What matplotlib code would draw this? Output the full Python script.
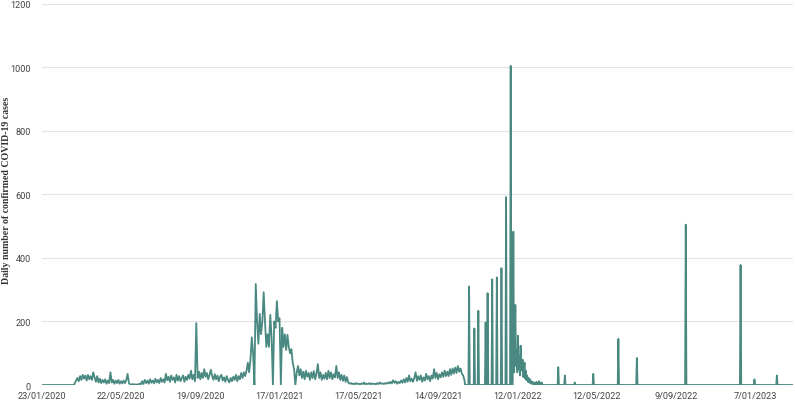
import matplotlib
matplotlib.use("Agg")
import matplotlib.pyplot as plt
import pandas as pd

# --- data ---
start_date = "2020-01-23"
end_date = "2023-03-06"

# low-level period, one value every 2 days starting 13/03/2020
noisy_start = "2020-03-13"
noisy_values = [
    6, 14, 22, 12, 28, 16, 32, 20, 30, 14, 32, 18, 28, 16, 40,
    24, 10, 28, 8, 20, 6, 16, 8, 18, 4, 14, 6,
    40, 8, 16, 4, 14, 6, 16, 4, 12, 5, 14, 6, 16, 35,
    6, 2, 1, 3, 1, 2, 1, 2, 4, 2,
    12, 3, 16, 6, 14, 4, 18, 7, 14, 5, 20, 8, 16, 6, 22, 10, 18, 8, 35,
    15, 26, 10, 30, 16, 24, 8, 32, 14, 28, 12, 22, 30, 10, 26, 16, 32, 20, 45,
    18, 32, 12,
    195, 22, 42, 18, 38, 22, 50, 26, 38, 18, 32, 48,
    28, 16, 34, 18, 30, 12, 26, 32, 14, 24, 10, 28, 16, 8, 22, 12, 26,
    16, 32, 12, 28, 18, 38, 22, 40, 28, 45,
    70, 40, 80, 150, 100, 0,
    318, 200, 130, 224, 160, 200, 292, 200, 120, 160, 120, 221, 150, 0,
    200, 180, 264, 200, 210, 0,
    180, 120, 160, 110, 158, 120, 100, 113, 70, 50, 0,
    40, 60, 30, 50, 22, 42, 18, 45, 26, 38, 16, 40, 22, 44, 18, 36, 66,
    22, 40, 16, 32, 20, 38, 18, 45, 22, 40, 18, 34, 24, 60,
    22, 40, 16, 32, 13, 30, 10, 25,
    8, 4, 6, 3, 5, 2, 6, 3, 4, 2, 5, 3, 8, 2, 4, 3,
    6, 2, 5, 3, 4, 2, 6, 3, 8, 4, 5, 3, 6, 4, 8, 5,
    10, 5, 15, 7, 12, 4, 10, 6, 14, 7,
    18, 8, 22, 10, 30, 12, 20, 10,
    22, 40, 13, 28, 16, 30, 10, 24, 14, 35, 18, 28, 12, 30, 20,
    50, 22, 38, 18, 34, 24, 40, 26, 45, 28,
    42, 28, 50, 32, 52, 36, 55, 38, 60, 42, 52, 36, 30, 15,
]

# single-day reports after October 2021 (zero on other days)
spike_dates = [
    "2021-10-31", "2021-11-08", "2021-11-14", "2021-11-25", "2021-11-28",
    "2021-12-05", "2021-12-12", "2021-12-19", "2021-12-26", "2022-01-02",
    "2022-01-06", "2022-03-15", "2022-03-25", "2022-04-09", "2022-05-07",
    "2022-06-14", "2022-07-12", "2022-09-24", "2022-12-16", "2023-01-06",
    "2023-02-09",
]
spike_values = [
    310, 178, 234, 197, 289,
    333, 339, 368, 592, 1005,
    483, 56, 30, 8, 35,
    145, 85, 505, 378, 18,
    30,
]

# daily tail after the January 2022 peak
tail_start = "2022-01-07"
tail_values = [
    40, 90, 252, 60, 110, 40, 155, 50, 90, 30, 124, 45, 60, 80, 25, 50,
    70, 20, 45, 15, 30, 10, 22, 8, 18, 5, 12, 4, 10, 3, 8, 2, 6, 3, 10,
    2, 5, 1, 12, 3, 6, 0, 8, 0,
]

tick_dates = pd.date_range(start_date, periods=10, freq="120D")

# --- build the series ---
noisy = pd.Series(noisy_values,
                  index=pd.date_range(noisy_start, periods=len(noisy_values), freq="2D"))
lead = pd.Series(0, index=pd.date_range(start_date, noisy.index[0] - pd.Timedelta(days=1)))
late = pd.Series(0, index=pd.date_range(noisy.index[-1] + pd.Timedelta(days=1), end_date))
late[pd.to_datetime(spike_dates)] = spike_values
tail = pd.Series(tail_values,
                 index=pd.date_range(tail_start, periods=len(tail_values), freq="D"))
late[tail.index] = tail.values
cases = pd.concat([lead, noisy, late])

# --- plot ---
fig = plt.figure(figsize=(7.95, 4.02), dpi=100)
ax = fig.add_axes([0.0525, 0.0398, 0.9455, 0.9478])

ax.plot(cases.index, cases.values, color="#4a8981", lw=1.3, zorder=3)

ax.set_xlim(pd.Timestamp(start_date), pd.Timestamp(end_date))
ax.set_ylim(0, 1200)
ax.set_yticks(range(0, 1201, 200))
ax.set_xticks(tick_dates)
ax.set_xticklabels([f"{d.day}/{d.month:02d}/{d.year}" for d in tick_dates])

ax.grid(axis="y", color="#e3e3e3", lw=0.8, zorder=0)
ax.grid(axis="x", visible=False)
for s in ax.spines.values():
    s.set_visible(False)
ax.tick_params(length=0, labelsize=6.6, labelcolor="#444444", pad=4)
ax.tick_params(axis="y", pad=8)
for lab in ax.get_xticklabels() + ax.get_yticklabels():
    lab.set_fontfamily("Roboto")

fig.text(0.008, 0.527, "Daily number of confirmed COVID-19 cases", rotation=90,
         ha="center", va="center", family="Liberation Serif",
         fontsize=7.1, fontweight="bold", color="#333333")

fig.savefig("out.png", dpi=100)
